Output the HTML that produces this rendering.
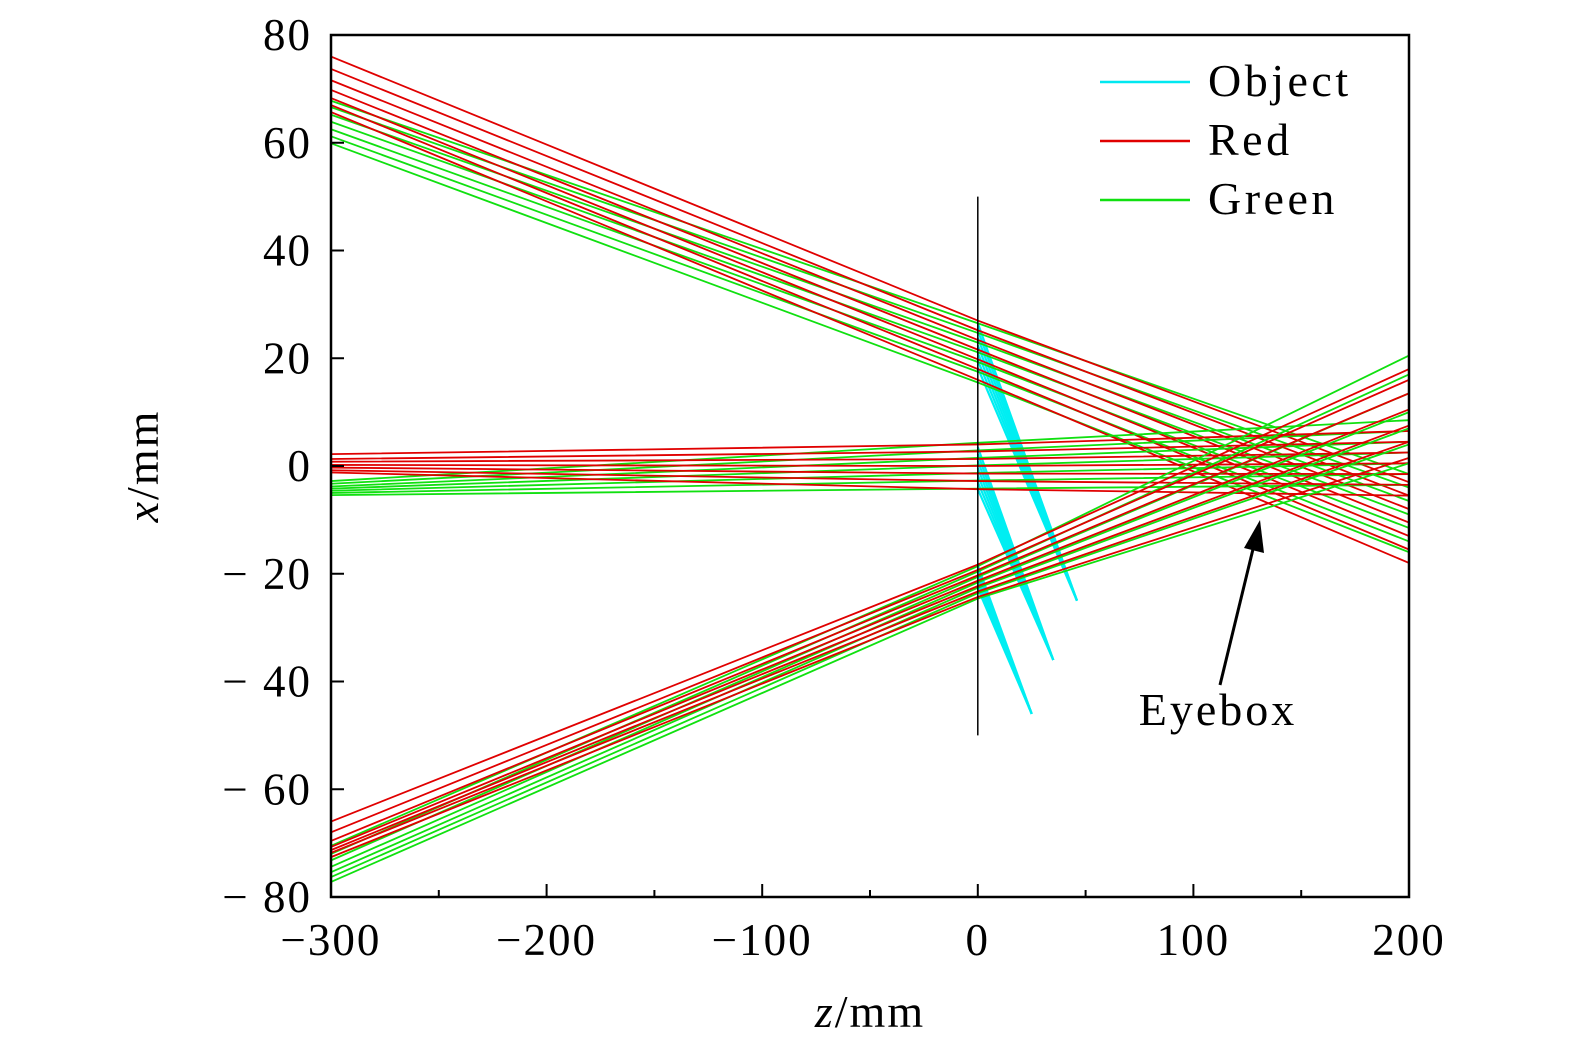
<!DOCTYPE html>
<html><head><meta charset="utf-8"><style>
html,body{margin:0;padding:0;background:#fff}
svg{display:block}
text{font-family:"Liberation Serif",serif;fill:#000}
</style></head><body>
<svg id="chart" width="1575" height="1053" viewBox="0 0 1575 1053" xmlns="http://www.w3.org/2000/svg">
<g id="rays"></g>
<g id="axes"></g>
<line id="lens" stroke="#000" stroke-width="1.5"/>
<g>
<line x1="1100" y1="82" x2="1190" y2="82" stroke="#00e8f0" stroke-width="2.5"/>
<text x="1208" y="96" font-size="46" letter-spacing="3.5">Object</text>
<line x1="1100" y1="141" x2="1190" y2="141" stroke="#e00000" stroke-width="2.5"/>
<text x="1208" y="155" font-size="46" letter-spacing="3.5">Red</text>
<line x1="1100" y1="200" x2="1190" y2="200" stroke="#10e010" stroke-width="2.5"/>
<text x="1208" y="214" font-size="46" letter-spacing="3.5">Green</text>
</g>
<g>
<line x1="1220" y1="685" x2="1254" y2="545" stroke="#000" stroke-width="3"/>
<polygon points="1260,520 1264,553 1244,548" fill="#000"/>
<text x="1218" y="725" font-size="46" letter-spacing="3" text-anchor="middle">Eyebox</text>
</g>
<text x="870" y="1027" font-size="46" letter-spacing="2" text-anchor="middle"><tspan font-style="italic">z</tspan>/mm</text>
<text transform="translate(158,466) rotate(-90)" font-size="46" letter-spacing="2" text-anchor="middle"><tspan font-style="italic">x</tspan>/mm</text>
</svg>
<script>
const zStops = [-300, 0, 200];
const redLeft = [76, 73.7, 71.6, 69.8, 68.3, 67, 65.7, 2.2, 1.3, 0.8, 0.2, -0.3, -0.8, -1.2, -66, -68, -69.6, -70.7, -71.3, -71.8, -72.6];
const redMid = [27, 25.2, 23.4, 21.6, 19.8, 18, 16, 4, 2.7, 1.3, 0, -1.4, -2.8, -4.3, -18.3, -19.3, -20.3, -21.3, -22.3, -23.3, -24.3];
const redRight = [-3, -5.5, -8, -10.5, -13, -15.5, -18, 6.5, 4.5, 2.5, 0.5, -1.5, -3.5, -5.5, 18, 16, 13.5, 10.5, 7.5, 4.5, 1.5];
const greenLeft = [67.8, 66.6, 65.2, 63.9, 62.5, 61.2, 59.9, -2.8, -3.3, -3.8, -4.2, -4.6, -5, -5.4, -70.5, -72, -73.2, -74.4, -75.4, -76.3, -77.2];
const greenMid = [26.5, 24.7, 22.9, 21.1, 19.3, 17.5, 15.5, 4.3, 2.9, 1.5, 0.1, -1.3, -2.7, -4.2, -18.6, -19.6, -20.6, -21.6, -22.6, -23.6, -24.6];
const greenRight = [-1.5, -4, -6.5, -9, -11.5, -14, -16, 8.5, 6.5, 4.5, 2.5, 0.5, -1.5, -3.5, 20.5, 17, 13.5, 10, 7, 4, 0.5];
const objectFoci = [[46, -25], [35, -36], [25, -46]];
const objectStarts = [[26.5, 25.2, 23.8, 22.4, 21, 19.6, 18.2], [3.5, 2.2, 0.9, -0.4, -1.7, -3, -4.3], [-18.5, -19.2, -19.9, -20.6, -21.3, -22, -22.7]];
const xTicks = [-300, -200, -100, 0, 100, 200];
const yTicks = [80, 60, 40, 20, 0, -20, -40, -60, -80];

const X0 = 331, X1 = 1409, Y0 = 897, Y1 = 35;
const sx = z => X0 + (z + 300) / 500 * (X1 - X0);
const sy = x => Y0 - (x + 80) / 160 * (Y0 - Y1);
const NS = 'http://www.w3.org/2000/svg';
const rays = document.getElementById('rays');
const axes = document.getElementById('axes');
function mk(tag, attrs, parent) { const e = document.createElementNS(NS, tag); for (const k in attrs) e.setAttribute(k, attrs[k]); parent.appendChild(e); return e; }

objectStarts.forEach((grp, gi) => {
  grp.forEach((x0, i) => {
    const l = mk('line', {x1: sx(0), y1: sy(x0), x2: sx(objectFoci[gi][0]), y2: sy(objectFoci[gi][1]), stroke: '#00eef2', 'stroke-width': 2.2}, rays);
    
    
  });
});
function drawRays(L, M, R, col, name) {
  for (let i = 0; i < L.length; i++) {
    const pts = [[zStops[0], L[i]], [zStops[1], M[i]], [zStops[2], R[i]]].map(p => sx(p[0]) + ',' + sy(p[1])).join(' ');
    const p = mk('polyline', {points: pts, fill: 'none', stroke: col, 'stroke-width': 1.8}, rays);
    
    
  }
}
for (let k = 0; k < 3; k++) {
  const s = k * 7, e = s + 7;
  drawRays(greenLeft.slice(s, e), greenMid.slice(s, e), greenRight.slice(s, e), '#10e010', 'green-ray');
  drawRays(redLeft.slice(s, e), redMid.slice(s, e), redRight.slice(s, e), '#e00000', 'red-ray');
}
const lens = document.getElementById('lens');
lens.setAttribute('x1', sx(0)); lens.setAttribute('x2', sx(0));
lens.setAttribute('y1', sy(50)); lens.setAttribute('y2', sy(-50));

const frame = mk('rect', {x: X0, y: Y1, width: X1 - X0, height: Y0 - Y1, fill: 'none', stroke: '#000', 'stroke-width': 2.5}, axes);


for (let z = -250; z < 200; z += 100) {
  const t = mk('line', {x1: sx(z), x2: sx(z), y1: Y0, y2: Y0 - 7, stroke: '#000', 'stroke-width': 2}, axes);
  
  
}
xTicks.forEach(v => {
  const t = mk('line', {x1: sx(v), x2: sx(v), y1: Y0, y2: Y0 - 13, stroke: '#000', 'stroke-width': 2}, axes);
  
  
  const lb = mk('text', {x: sx(v), y: 955, 'font-size': 45, 'letter-spacing': 2, 'text-anchor': 'middle'}, axes);
  lb.textContent = v < 0 ? '\u2212' + (-v) : String(v);
  
  
});
yTicks.forEach(v => {
  const t = mk('line', {x1: X0, x2: X0 + 13, y1: sy(v), y2: sy(v), stroke: '#000', 'stroke-width': 2}, axes);
  
  
  const lb = mk('text', {x: 312, y: sy(v) + 15, 'font-size': 45, 'letter-spacing': 2, 'text-anchor': 'end'}, axes);
  lb.textContent = v < 0 ? '\u2212 ' + (-v) : String(v);
  
  
});
</script>
</body></html>
